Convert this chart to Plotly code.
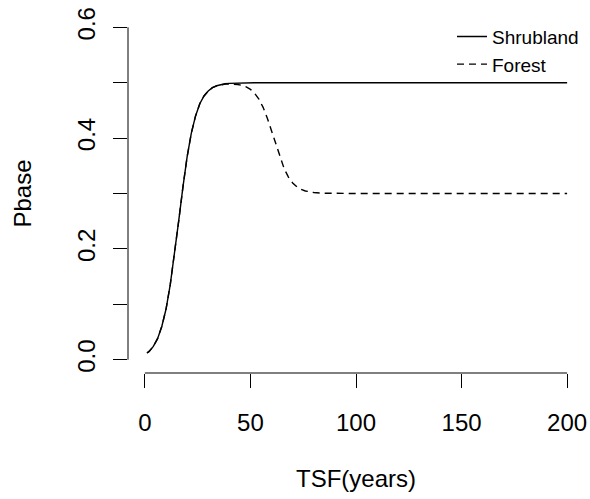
import plotly.graph_objects as go

# Time since fire (years)
tsf = [1, 2, 4, 6, 8, 10, 12, 14, 16, 18, 20, 22, 24, 26, 28, 30, 32, 34, 36, 38,
       40, 42, 44, 46, 48, 50, 52, 54, 56, 58, 60, 62, 64, 66, 68, 70, 72, 74, 76,
       78, 80, 84, 90, 100, 120, 150, 200]

shrubland = [0.012, 0.015, 0.024, 0.038, 0.060, 0.091, 0.135, 0.189, 0.250, 0.311,
             0.366, 0.409, 0.440, 0.462, 0.476, 0.485, 0.491, 0.4945, 0.4967, 0.498,
             0.4988, 0.4992, 0.4995, 0.4997, 0.4998, 0.4999, 0.5, 0.5, 0.5, 0.5,
             0.5, 0.5, 0.5, 0.5, 0.5, 0.5, 0.5, 0.5, 0.5,
             0.5, 0.5, 0.5, 0.5, 0.5, 0.5, 0.5, 0.5]

forest = [0.012, 0.015, 0.024, 0.038, 0.060, 0.091, 0.135, 0.189, 0.250, 0.311,
          0.366, 0.409, 0.440, 0.462, 0.476, 0.485, 0.491, 0.4944, 0.4965, 0.4975,
          0.4978, 0.4975, 0.4967, 0.4951, 0.4924, 0.4879, 0.4809, 0.4704, 0.4555, 0.4358,
          0.4124, 0.3876, 0.3642, 0.3445, 0.3296, 0.3191, 0.3120, 0.3075, 0.3046,
          0.3028, 0.3017, 0.3006, 0.3002, 0.3, 0.3, 0.3, 0.3]

x_ticks = [0, 50, 100, 150, 200]
y_ticks = [0.0, 0.1, 0.2, 0.3, 0.4, 0.5, 0.6]
y_ticktext = ["0.0", "", "0.2", "", "0.4", "", "0.6"]

FONT = "Liberation Sans, Arial, Helvetica, sans-serif"
INK = "#000000"

fig = go.Figure()
fig.add_trace(go.Scatter(x=tsf, y=shrubland, mode="lines", name="Shrubland",
                         line=dict(color=INK, width=1.4, dash="solid")))
fig.add_trace(go.Scatter(x=tsf, y=forest, mode="lines", name="Forest",
                         line=dict(color=INK, width=1.4, dash="7px,5px")))

xpad = (max(x_ticks) - min(x_ticks)) * 0.04
ypad = (max(y_ticks) - min(y_ticks)) * 0.04

fig.update_layout(
    width=590, height=499,
    margin=dict(l=128, r=6, t=14, b=126, autoexpand=False),
    paper_bgcolor="white", plot_bgcolor="white",
    font=dict(family=FONT, size=24, color=INK),
    showlegend=True,
    legend=dict(x=1.0, xanchor="right", y=0.99, yanchor="top",
                bgcolor="rgba(0,0,0,0)", font=dict(size=19),
                itemwidth=30, tracegroupgap=0),
    xaxis=dict(range=[min(x_ticks) - xpad, max(x_ticks) + xpad],
               tickvals=x_ticks, ticktext=[str(v) for v in x_ticks],
               ticks="outside", ticklen=14, tickwidth=1, tickcolor=INK,
               showline=False, showgrid=False, zeroline=False, automargin=False,
               ticklabelstandoff=14,
               title=dict(text="TSF(years)", standoff=35, font=dict(size=24))),
    yaxis=dict(range=[min(y_ticks) - ypad, max(y_ticks) + ypad],
               tickvals=y_ticks, ticktext=y_ticktext, tickangle=-90,
               ticks="outside", ticklen=14, tickwidth=1, tickcolor=INK,
               showline=False, showgrid=False, zeroline=False, automargin=False,
               ticklabelstandoff=8,
               title=dict(text="Pbase", standoff=35, font=dict(size=24))),
)

# R-style axis lines spanning only the tick range
fig.add_shape(type="line", xref="x", yref="paper", x0=min(x_ticks), x1=max(x_ticks),
              y0=0, y1=0, line=dict(color=INK, width=1))
fig.add_shape(type="line", xref="paper", yref="y", x0=0, x1=0,
              y0=min(y_ticks), y1=max(y_ticks), line=dict(color=INK, width=1))

fig.write_html("out.html")
